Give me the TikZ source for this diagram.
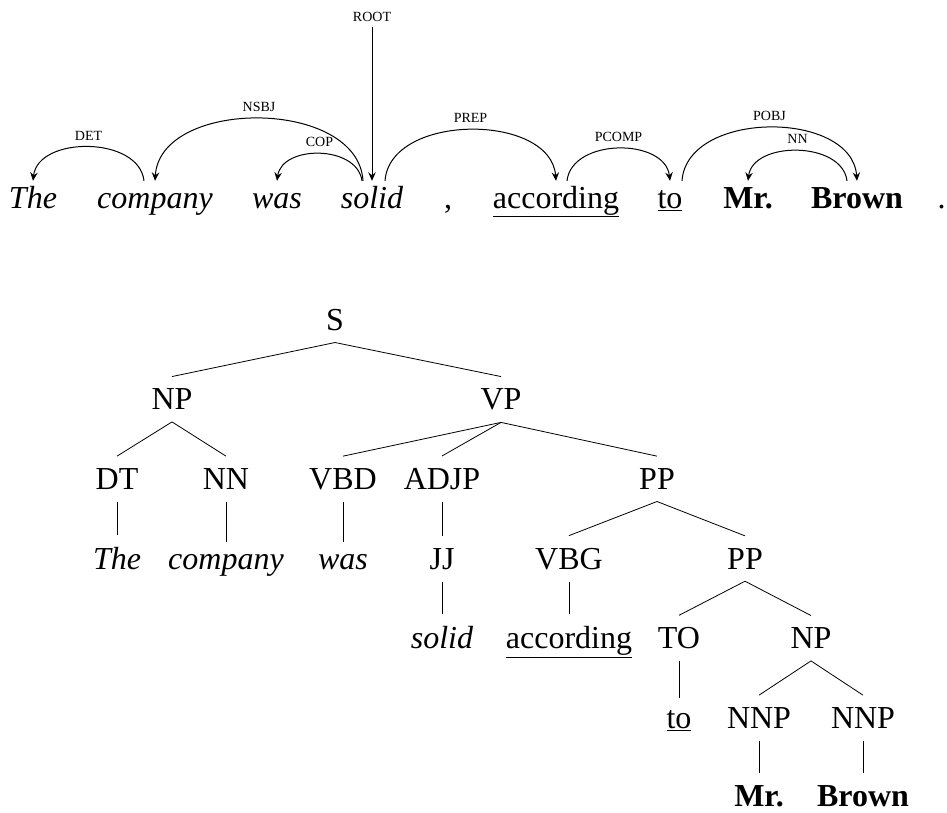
\documentclass[tikz,border=0pt]{standalone}
\usepackage{fontspec}
\setmainfont{Liberation Serif}
\usetikzlibrary{arrows.meta}
\begin{document}
\begin{tikzpicture}[x=1pt,y=-1pt,
  word/.style={anchor=base, font=\fontsize{32}{38}\selectfont, text height=22pt, text depth=8pt, inner ysep=5pt, inner xsep=0pt},
  tn/.style={anchor=base, font=\fontsize{32}{38}\selectfont, inner ysep=12pt, inner xsep=0pt},
  lab/.style={anchor=base, font=\fontsize{14}{16}\selectfont, inner sep=0pt, yshift=7pt},
  dep/.style={line width=1pt, -{Stealth[length=8.5pt,width=7.5pt,inset=3pt]}},
  br/.style={line width=0.8pt}]
\useasboundingbox (0,0) rectangle (947,812);

% ---------- dependency sentence ----------
\node[word] (w1) at (33,208) {\itshape The};
\node[word] (w2) at (155,208) {\itshape company};
\node[word] (w3) at (277,208) {\itshape was};
\node[word] (w4) at (372,208) {\itshape solid};
\node[word] (w5) at (448,208) {,};
\node[word] (w6) at (556,208) {\underline{according}};
\node[word] (w7) at (670,208) {\underline{to}};
\node[word] (w8) at (748,208) {\bfseries Mr.};
\node[word] (w9) at (857,208) {\bfseries Brown};
\node[word] (w10) at (941.5,208) {.};

\node[anchor=base, font=\fontsize{14}{16}\selectfont, inner sep=6pt] (root) at (372,21) {ROOT};
\draw[dep] (root.south) -- (w4.north);

% leftward arcs: controls lean toward each other
\draw[dep] ([xshift=-11pt]w2.north) .. controls +(-5,-45) and +(5,-45) .. (w1.north) node[lab, midway] {DET};
\draw[dep] ([xshift=-9pt]w4.north) .. controls +(-5,-83) and +(5,-83) .. (w2.north) node[lab, midway] {NSBJ};
\draw[dep] ([xshift=-10pt]w4.north) .. controls +(-5,-36) and +(5,-36) .. (w3.north) node[lab, midway] {COP};
\draw[dep] ([xshift=-10pt]w9.north) .. controls +(-5,-40) and +(5,-40) .. (w8.north) node[lab, midway] {NN};
% rightward arcs
\draw[dep] ([xshift=13pt]w4.north) .. controls +(5,-68) and +(-5,-68) .. (w6.north) node[lab, midway] {PREP};
\draw[dep] ([xshift=11pt]w6.north) .. controls +(5,-43) and +(-5,-43) .. (w7.north) node[lab, midway] {PCOMP};
\draw[dep] ([xshift=12pt]w7.north) .. controls +(5,-71) and +(-5,-71) .. (w9.north) node[lab, midway] {POBJ};

% ---------- constituency tree ----------
\node[tn] (S) at (335,330) {S};
\node[tn] (NP) at (172,409.7) {NP};
\node[tn] (VP) at (501,409.7) {VP};
\node[tn] (DT) at (117,489.3) {DT};
\node[tn] (NN) at (226,489.3) {NN};
\node[tn] (VBD) at (343,489.3) {VBD};
\node[tn] (ADJP) at (442,489.3) {ADJP};
\node[tn] (PP) at (657,489.3) {PP};
\node[tn] (tThe) at (117,569) {\itshape The};
\node[tn] (tcompany) at (226,569) {\itshape company};
\node[tn] (twas) at (343,569) {\itshape was};
\node[tn] (JJ) at (442,569) {JJ};
\node[tn] (VBG) at (569,569) {VBG};
\node[tn] (PPb) at (745,569) {PP};
\node[tn] (tsolid) at (442,648.7) {\itshape solid};
\node[tn] (taccording) at (569,648.7) {\underline{according}};
\node[tn] (TO) at (679,648.7) {TO};
\node[tn] (NPb) at (811,648.7) {NP};
\node[tn] (tto) at (679,728.3) {\underline{to}};
\node[tn] (NNPa) at (759,728.3) {NNP};
\node[tn] (NNPb) at (863,728.3) {NNP};
\node[tn] (tMr) at (759,806) {\bfseries Mr.};
\node[tn] (tBrown) at (863,806) {\bfseries Brown};

\draw[br] (S.south) -- (NP.north);
\draw[br] (S.south) -- (VP.north);
\draw[br] (NP.south) -- (DT.north);
\draw[br] (NP.south) -- (NN.north);
\draw[br] (VP.south) -- (VBD.north);
\draw[br] (VP.south) -- (ADJP.north);
\draw[br] (VP.south) -- (PP.north);
\draw[br] (DT.south) -- (tThe.north);
\draw[br] (NN.south) -- (tcompany.north);
\draw[br] (VBD.south) -- (twas.north);
\draw[br] (ADJP.south) -- (JJ.north);
\draw[br] (PP.south) -- (VBG.north);
\draw[br] (PP.south) -- (PPb.north);
\draw[br] (JJ.south) -- (tsolid.north);
\draw[br] (VBG.south) -- (taccording.north);
\draw[br] (PPb.south) -- (TO.north);
\draw[br] (PPb.south) -- (NPb.north);
\draw[br] (TO.south) -- (tto.north);
\draw[br] (NPb.south) -- (NNPa.north);
\draw[br] (NPb.south) -- (NNPb.north);
\draw[br] (NNPa.south) -- (tMr.north);
\draw[br] (NNPb.south) -- (tBrown.north);
\end{tikzpicture}
\end{document}
